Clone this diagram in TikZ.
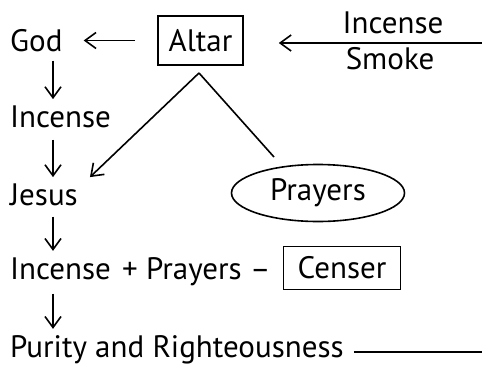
\documentclass[tikz,border=0pt]{standalone}
\usepackage{fontspec}
\setmainfont{PT Sans}
\usetikzlibrary{arrows.meta,shapes.geometric}

\tikzset{
  word/.style={inner xsep=0pt, inner ysep=6pt, font=\fontsize{31}{36}\selectfont},
  framed/.style={word, draw, line width=1.6pt, inner xsep=7pt},
  bubble/.style={word, draw, ellipse, line width=1.6pt, minimum width=173pt, minimum height=56pt},
  link/.style={line width=1.6pt},
  flow/.style={link, -{Straight Barb[length=11pt,width=16pt]}},
}

\begin{document}
\begin{tikzpicture}[x=1pt,y=-1pt]
    \useasboundingbox (0,0) rectangle (482,367);

    % left column
    \node[word, anchor=base west] (god) at (10,51) {God};
    \node[word, anchor=base west] (incense) at (10,127) {Incense};
    \node[word, anchor=base west] (jesus) at (10,205) {Jesus};
    \node[word, anchor=base west] (mix) at (10,279) {Incense\hspace{3pt} + Prayers --};
    \node[word, anchor=base west] (purity) at (10,357) {Purity and Righteousness};
    \coordinate (spine) at (53,0);

    % altar and smoke
    \node[framed, minimum width=85pt, minimum height=49pt] (altar) at (200.5,40.5) {Altar};
    \coordinate (smokeend) at (482,43);
    \node[word, anchor=base] (smoke1) at (393,33) {Incense};
    \node[word, anchor=base] (smoke2) at (390,69) {Smoke};

    \node[bubble] (prayers) at (318,193) {Prayers};
    \node[framed, minimum width=117pt, minimum height=43pt] (censer) at (342,268) {Censer};

    \coordinate (apex) at (199,73);
    \coordinate (prayerstop) at (274,157);
    \coordinate (rim) at (482,352);

    \draw[flow, shorten <=22pt, shorten >=21pt] (altar.west) -- (altar.west -| god.east);
    \draw[flow, shorten >=35pt] (smokeend) -- (smokeend -| altar.east);

    \draw[flow, shorten <=3pt] (god.south -| spine) -- (incense.north -| spine);
    \draw[flow, shorten <=6pt] (incense.south -| spine) -- (jesus.north -| spine);
    \draw[flow, shorten <=5pt] (jesus.south -| spine) -- (mix.north -| spine);
    \draw[flow, shorten <=2pt] (mix.south -| spine) -- (purity.north -| spine);

    \draw[flow] (apex) -- ([xshift=12pt]jesus.north east);
    \draw[link] (apex) -- (prayerstop);
    \draw[link] (purity.east |- rim) ++(10,0) -- (rim);
\end{tikzpicture}
\end{document}
